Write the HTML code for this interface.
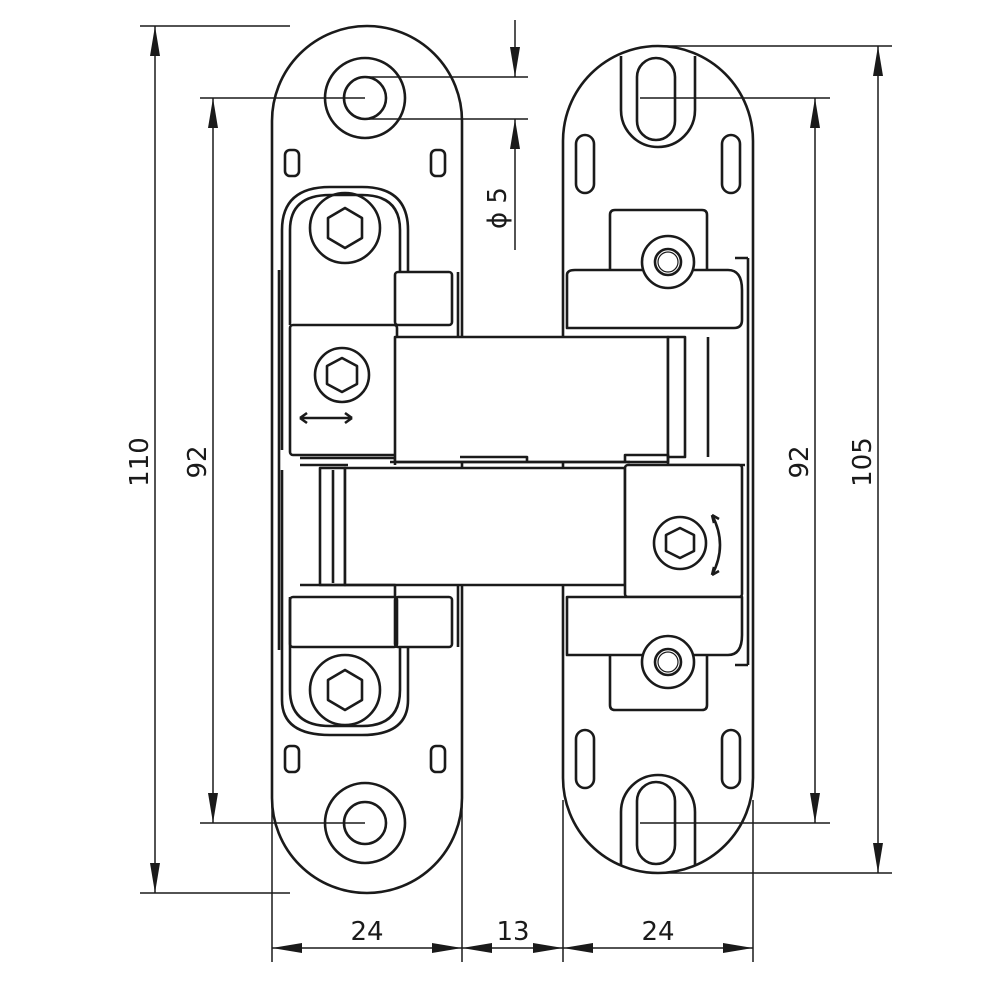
<!DOCTYPE html>
<html><head><style>html,body{margin:0;background:#fff}svg{display:block}</style></head><body>
<svg width="1000" height="1000" viewBox="0 0 1000 1000" xmlns="http://www.w3.org/2000/svg">
<defs>
<marker id="a" viewBox="0 0 30 10" refX="30" refY="5" markerWidth="30" markerHeight="10" markerUnits="userSpaceOnUse" orient="auto-start-reverse"><path d="M0,0 L30,5 L0,10 Z" fill="#1a1a1a"/></marker>
</defs>
<g fill="none" stroke="#1a1a1a" stroke-width="1.5">
<line x1="140" y1="26" x2="290" y2="26"/>
<line x1="140" y1="893" x2="290" y2="893"/>
<line x1="200" y1="98" x2="365" y2="98"/>
<line x1="200" y1="823" x2="365" y2="823"/>
<line x1="365" y1="77" x2="528" y2="77"/>
<line x1="365" y1="119" x2="528" y2="119"/>
<line x1="640" y1="98" x2="830" y2="98"/>
<line x1="640" y1="823" x2="830" y2="823"/>
<line x1="660" y1="46" x2="892" y2="46"/>
<line x1="660" y1="873" x2="892" y2="873"/>
<line x1="272" y1="800" x2="272" y2="962"/>
<line x1="462" y1="800" x2="462" y2="962"/>
<line x1="563" y1="800" x2="563" y2="962"/>
<line x1="753" y1="800" x2="753" y2="962"/>
<line x1="155" y1="26" x2="155" y2="893" marker-start="url(#a)" marker-end="url(#a)"/>
<line x1="213" y1="98" x2="213" y2="823" marker-start="url(#a)" marker-end="url(#a)"/>
<line x1="815" y1="98" x2="815" y2="823" marker-start="url(#a)" marker-end="url(#a)"/>
<line x1="878" y1="46" x2="878" y2="873" marker-start="url(#a)" marker-end="url(#a)"/>
<line x1="272" y1="948" x2="462" y2="948" marker-start="url(#a)" marker-end="url(#a)"/>
<line x1="462" y1="948" x2="563" y2="948" marker-start="url(#a)" marker-end="url(#a)"/>
<line x1="563" y1="948" x2="753" y2="948" marker-start="url(#a)" marker-end="url(#a)"/>
<line x1="515" y1="20" x2="515" y2="77" marker-end="url(#a)"/>
<line x1="515" y1="250" x2="515" y2="119" marker-end="url(#a)"/>
</g>
<g font-family="'DejaVu Sans','Liberation Sans',sans-serif" font-size="26" fill="#1a1a1a" text-anchor="middle">
<text x="367" y="940">24</text>
<text x="513" y="940">13</text>
<text x="658" y="940">24</text>
<text transform="translate(148,462) rotate(-90)">110</text>
<text transform="translate(206,462) rotate(-90)">92</text>
<text transform="translate(808,462) rotate(-90)">92</text>
<text transform="translate(871,462) rotate(-90)">105</text>
<text transform="translate(506,208) rotate(-90)">ϕ 5</text>
</g>
<g fill="none" stroke="#1a1a1a" stroke-width="2.6" stroke-linejoin="round">
<path d="M272,121 A95,95 0 0 1 462,121 V798 A95,95 0 0 1 272,798 Z"/>
<path d="M563,141 A95,95 0 0 1 753,141 V778 A95,95 0 0 1 563,778 Z"/>
<circle cx="365" cy="98" r="40"/><circle cx="365" cy="98" r="21"/>
<circle cx="365" cy="823" r="40"/><circle cx="365" cy="823" r="21"/>
<rect x="285" y="150" width="14" height="26" rx="5"/><rect x="431" y="150" width="14" height="26" rx="5"/>
<rect x="285" y="746" width="14" height="26" rx="5"/><rect x="431" y="746" width="14" height="26" rx="5"/>
<line x1="279" y1="270" x2="279" y2="650"/>
<path d="M282,450 V230 Q282,187 330,187 H362 Q408,187 408,230 V272"/>
<path d="M290,325 V230 Q290,195 330,195 H362 Q400,195 400,230 V272"/>
<circle cx="345" cy="228" r="35"/><path d="M345,208 L362,218 L362,238 L345,248 L328,238 L328,218 Z"/>
<rect x="395" y="272" width="57" height="53" rx="3"/>
<line x1="458" y1="272" x2="458" y2="337"/>
<rect x="290" y="325" width="107" height="130" rx="3"/>
<circle cx="342" cy="375" r="27"/><path d="M342,358 L357,366 L357,384 L342,392 L327,384 L327,366 Z"/>
<path d="M300,418 L352,418 M300,418 l7,-5 M300,418 l7,5 M352,418 l-7,-5 M352,418 l-7,5"/>
<path d="M300,465 H348 M300,458 H395 V465"/>
<rect x="395" y="337" width="273" height="125" fill="#fff"/>
<path d="M460,457 H527 V462 M390,462 H630"/>
<rect x="320" y="468" width="25" height="117" fill="#fff"/><line x1="333" y1="470" x2="333" y2="583"/>
<rect x="345" y="468" width="280" height="117" fill="#fff"/>
<path d="M300,585 H395 V597"/>
<path d="M282,470 V700 Q282,735 330,735 H362 Q408,735 408,700 V647"/>
<path d="M290,597 V690 Q290,726 330,726 H362 Q400,726 400,690 V647"/>
<circle cx="345" cy="690" r="35"/><path d="M345,670 L362,680 L362,700 L345,710 L328,700 L328,680 Z"/>
<rect x="290" y="597" width="107" height="50" rx="3"/>
<rect x="395" y="597" width="57" height="50" rx="3"/>
<line x1="458" y1="585" x2="458" y2="647"/>
<path d="M621,56 V110 A37,37 0 0 0 695,110 V56"/>
<rect x="637" y="58" width="38" height="82" rx="19"/>
<path d="M621,866 V812 A37,37 0 0 1 695,812 V866"/>
<rect x="637" y="782" width="38" height="82" rx="19"/>
<rect x="576" y="135" width="18" height="58" rx="9"/><rect x="722" y="135" width="18" height="58" rx="9"/>
<rect x="576" y="730" width="18" height="58" rx="9"/><rect x="722" y="730" width="18" height="58" rx="9"/>
<path d="M610,270 V215 Q610,210 615,210 H702 Q707,210 707,215 V270"/>
<path d="M567,275 Q567,270 575,270 H728 Q742,270 742,290 V320 Q742,328 734,328 H567 Z" fill="#fff"/>
<circle cx="668" cy="262" r="26" fill="#fff"/><circle cx="668" cy="262" r="13"/><circle cx="668" cy="262" r="10" stroke-width="1.2"/>
<path d="M748,258 V665 M735,258 H748 M735,665 H748"/>
<rect x="668" y="337" width="17" height="120" fill="#fff"/><line x1="708" y1="337" x2="708" y2="457"/>
<path d="M625,462 V455 H668 V465 M745,465 H668"/>
<rect x="625" y="465" width="117" height="132" rx="3" fill="#fff"/>
<circle cx="680" cy="543" r="26"/><path d="M680,528 L694,535 L694,551 L680,558 L666,551 L666,535 Z"/>
<path d="M712,515 Q728,545 712,575 M712,515 l2,8 M712,515 l7,4 M712,575 l2,-8 M712,575 l7,-4"/>
<path d="M567,597 H742 V635 Q742,655 728,655 H567 Z" fill="#fff"/>
<path d="M610,655 V705 Q610,710 615,710 H702 Q707,710 707,705 V655"/>
<circle cx="668" cy="662" r="26" fill="#fff"/><circle cx="668" cy="662" r="13"/><circle cx="668" cy="662" r="10" stroke-width="1.2"/>
</g>
</svg>
</body></html>
